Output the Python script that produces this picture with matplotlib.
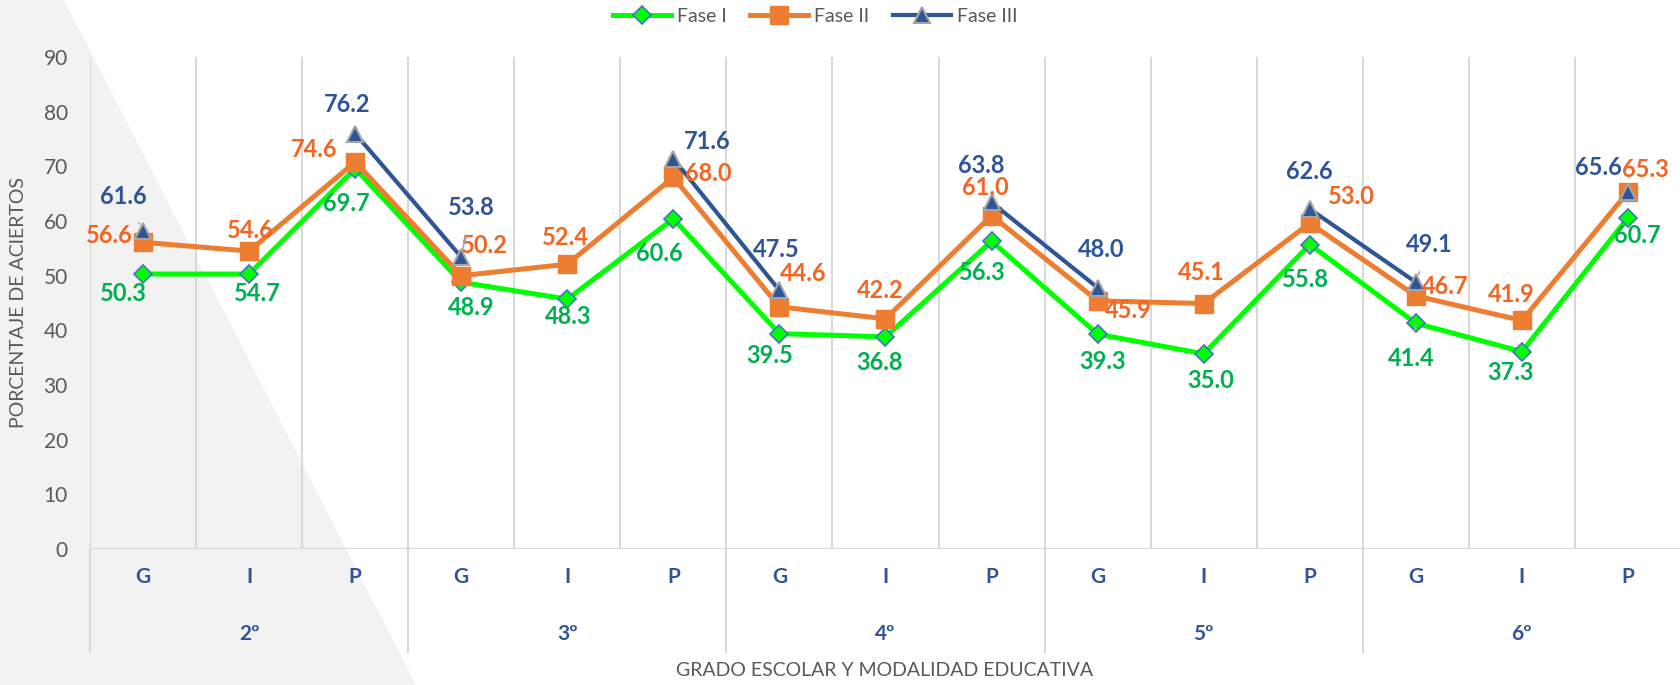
import numpy as np
import matplotlib.pyplot as plt
from matplotlib.patches import Polygon

# categories
modalidad = ['G', 'I', 'P'] * 5
grados = ['2º', '3º', '4º', '5º', '6º']

# plotted values
fase1 = [50.3, 50.3, 69.6, 48.8, 45.7, 60.4, 39.4, 38.8, 56.3, 39.3, 35.7, 55.7, 41.3, 36.1, 60.6]
fase2 = [56.1, 54.5, 70.8, 50.0, 52.1, 68.0, 44.3, 42.1, 61.0, 45.4, 44.9, 59.6, 46.3, 41.8, 65.3]
fase3 = [58.2, np.nan, 76.0, 53.4, np.nan, 71.4, 47.3, np.nan, 63.4, 47.8, np.nan, 62.2, 48.8, np.nan, 65.3]

# data label texts as they appear on the chart
lab1 = ['50.3', '54.7', '69.7', '48.9', '48.3', '60.6', '39.5', '36.8', '56.3', '39.3', '35.0', '55.8', '41.4', '37.3', '60.7']
lab2 = ['56.6', '54.6', '74.6', '50.2', '52.4', '68.0', '44.6', '42.2', '61.0', '45.9', '45.1', '53.0', '46.7', '41.9', '65.3']
lab3 = ['61.6', '', '76.2', '53.8', '', '71.6', '47.5', '', '63.8', '48.0', '', '62.6', '49.1', '', '65.6']

# label offsets in pixels (dx right, dy down) and leader lines
off1 = [(-20, 19), (8, 19), (-9, 35), (10, 25), (1, 17), (-14, 35), (-10, 22), (-6, 26),
        (-9, 31), (5, 27), (7, 27), (-4, 35), (-5, 35), (-11, 21), (9, 18)]
off2 = [(-34, -7), (1, -21), (-41, -12), (23, -30), (-2, -27), (35, -4), (24, -33), (-5, -28),
        (-6, -28), (31, 10), (-2, -31), (42, -27), (29, -9), (-11, -26), (17, -23)]
off3 = [(-20, -34), None, (-8, -29), (10, -50), None, (34, -17), (-3, -41), None,
        (-10, -37), (4, -38), None, (0, -37), (13, -38), None, (-30, -25)]
lead1 = [5, 11, 12]
lead2 = [6]
lead3 = [0, 3, 12]

W, H = 1681, 685
fig = plt.figure(figsize=(W / 100, H / 100), dpi=100)
tri = Polygon([(0, 1), (64 / W, 1), (416 / W, 0), (0, 0)], closed=True,
              transform=fig.transFigure, facecolor='#F2F2F2', edgecolor='none', zorder=-5)
fig.patches.append(tri)

x0, x1, ytop, ybot = 90, 1681, 57, 549
ax = fig.add_axes([x0 / W, 1 - ybot / H, (x1 - x0) / W, (ybot - ytop) / H])
ax.set_facecolor('none')
ax.set_xlim(-0.5, 14.5)
ax.set_ylim(0, 90)

x = np.arange(15)
for b in np.arange(-0.5, 15, 1):
    ax.axvline(b, color='#D9D9D9', lw=1.5, zorder=1)
ax.axhline(0, color='#D9D9D9', lw=1.5, zorder=1)

# group separators below the axis
sep = -(652 - ybot) / (ybot - ytop)
trans = ax.get_xaxis_transform()
for b in [-0.5, 2.5, 5.5, 8.5, 11.5]:
    ax.plot([b, b], [0, sep], color='#D9D9D9', lw=1.5, transform=trans, clip_on=False)
for i, g in enumerate(grados):
    ax.text(3 * i + 1, -(634 - ybot) / (ybot - ytop), g, transform=trans, ha='center', va='center',
            fontsize=15, fontweight='bold', color='#2F5597', family='Lato')

ax.plot(x, fase1, color='#00FF00', lw=3.6, marker='D', ms=9, mfc='#00FF00', mec='#4472C4',
        mew=1.2, zorder=3, label='Fase I')
ax.plot(x, fase2, color='#ED7D31', lw=3.6, marker='s', ms=13, mfc='#ED7D31', mec='#ED7D31',
        zorder=4, label='Fase II')
ax.plot(x, fase3, color='#2F5597', lw=3.0, marker='^', ms=12, mfc='#2F5597', mec='#A5A5A5',
        mew=1.5, zorder=5, label='Fase III')


def put_labels(vals, labs, offs, leads, color):
    for i, (v, t, o) in enumerate(zip(vals, labs, offs)):
        if o is None or not t:
            continue
        kw = {}
        if i in leads:
            kw['arrowprops'] = dict(arrowstyle='-', color='#A6A6A6', lw=1.2, shrinkA=10, shrinkB=6)
        ax.annotate(t, (i, v), xytext=(o[0] * 0.72, -o[1] * 0.72), textcoords='offset points',
                    ha='center', va='center', fontsize=17, fontweight='bold', color=color,
                    family='Lato', zorder=6, **kw)


put_labels(fase1, lab1, off1, lead1, '#00B050')
put_labels(fase2, lab2, off2, lead2, '#F26522')
put_labels(fase3, lab3, off3, lead3, '#2F5597')

ax.set_xticks(x)
ax.set_xticklabels(modalidad, fontsize=15, fontweight='bold', color='#2F5597', family='Lato')
ax.set_yticks(range(0, 91, 10))
ax.tick_params(axis='y', length=0, pad=16, labelsize=15, labelcolor='#595959')
ax.tick_params(axis='x', length=0, pad=13)
for lbl in ax.get_yticklabels():
    lbl.set_family('Lato')
for s in ax.spines.values():
    s.set_visible(False)

fig.text(19 / W, 1 - 303 / H, 'PORCENTAJE DE ACIERTOS', rotation=90, ha='center', va='center',
         fontsize=14, color='#595959', family='Lato')
fig.text(885 / W, 1 - 671 / H, 'GRADO ESCOLAR Y MODALIDAD EDUCATIVA', ha='center', va='center',
         fontsize=14, color='#595959', family='Lato')

leg = ax.legend(loc='center', bbox_to_anchor=(815 / W, 1 - 16 / H), bbox_transform=fig.transFigure,
                ncol=3, frameon=False, handlelength=3, columnspacing=1.2,
                handletextpad=0.3, prop={'family': 'Lato', 'size': 14})
for t in leg.get_texts():
    t.set_color('#595959')

fig.savefig('out.png', dpi=100)
